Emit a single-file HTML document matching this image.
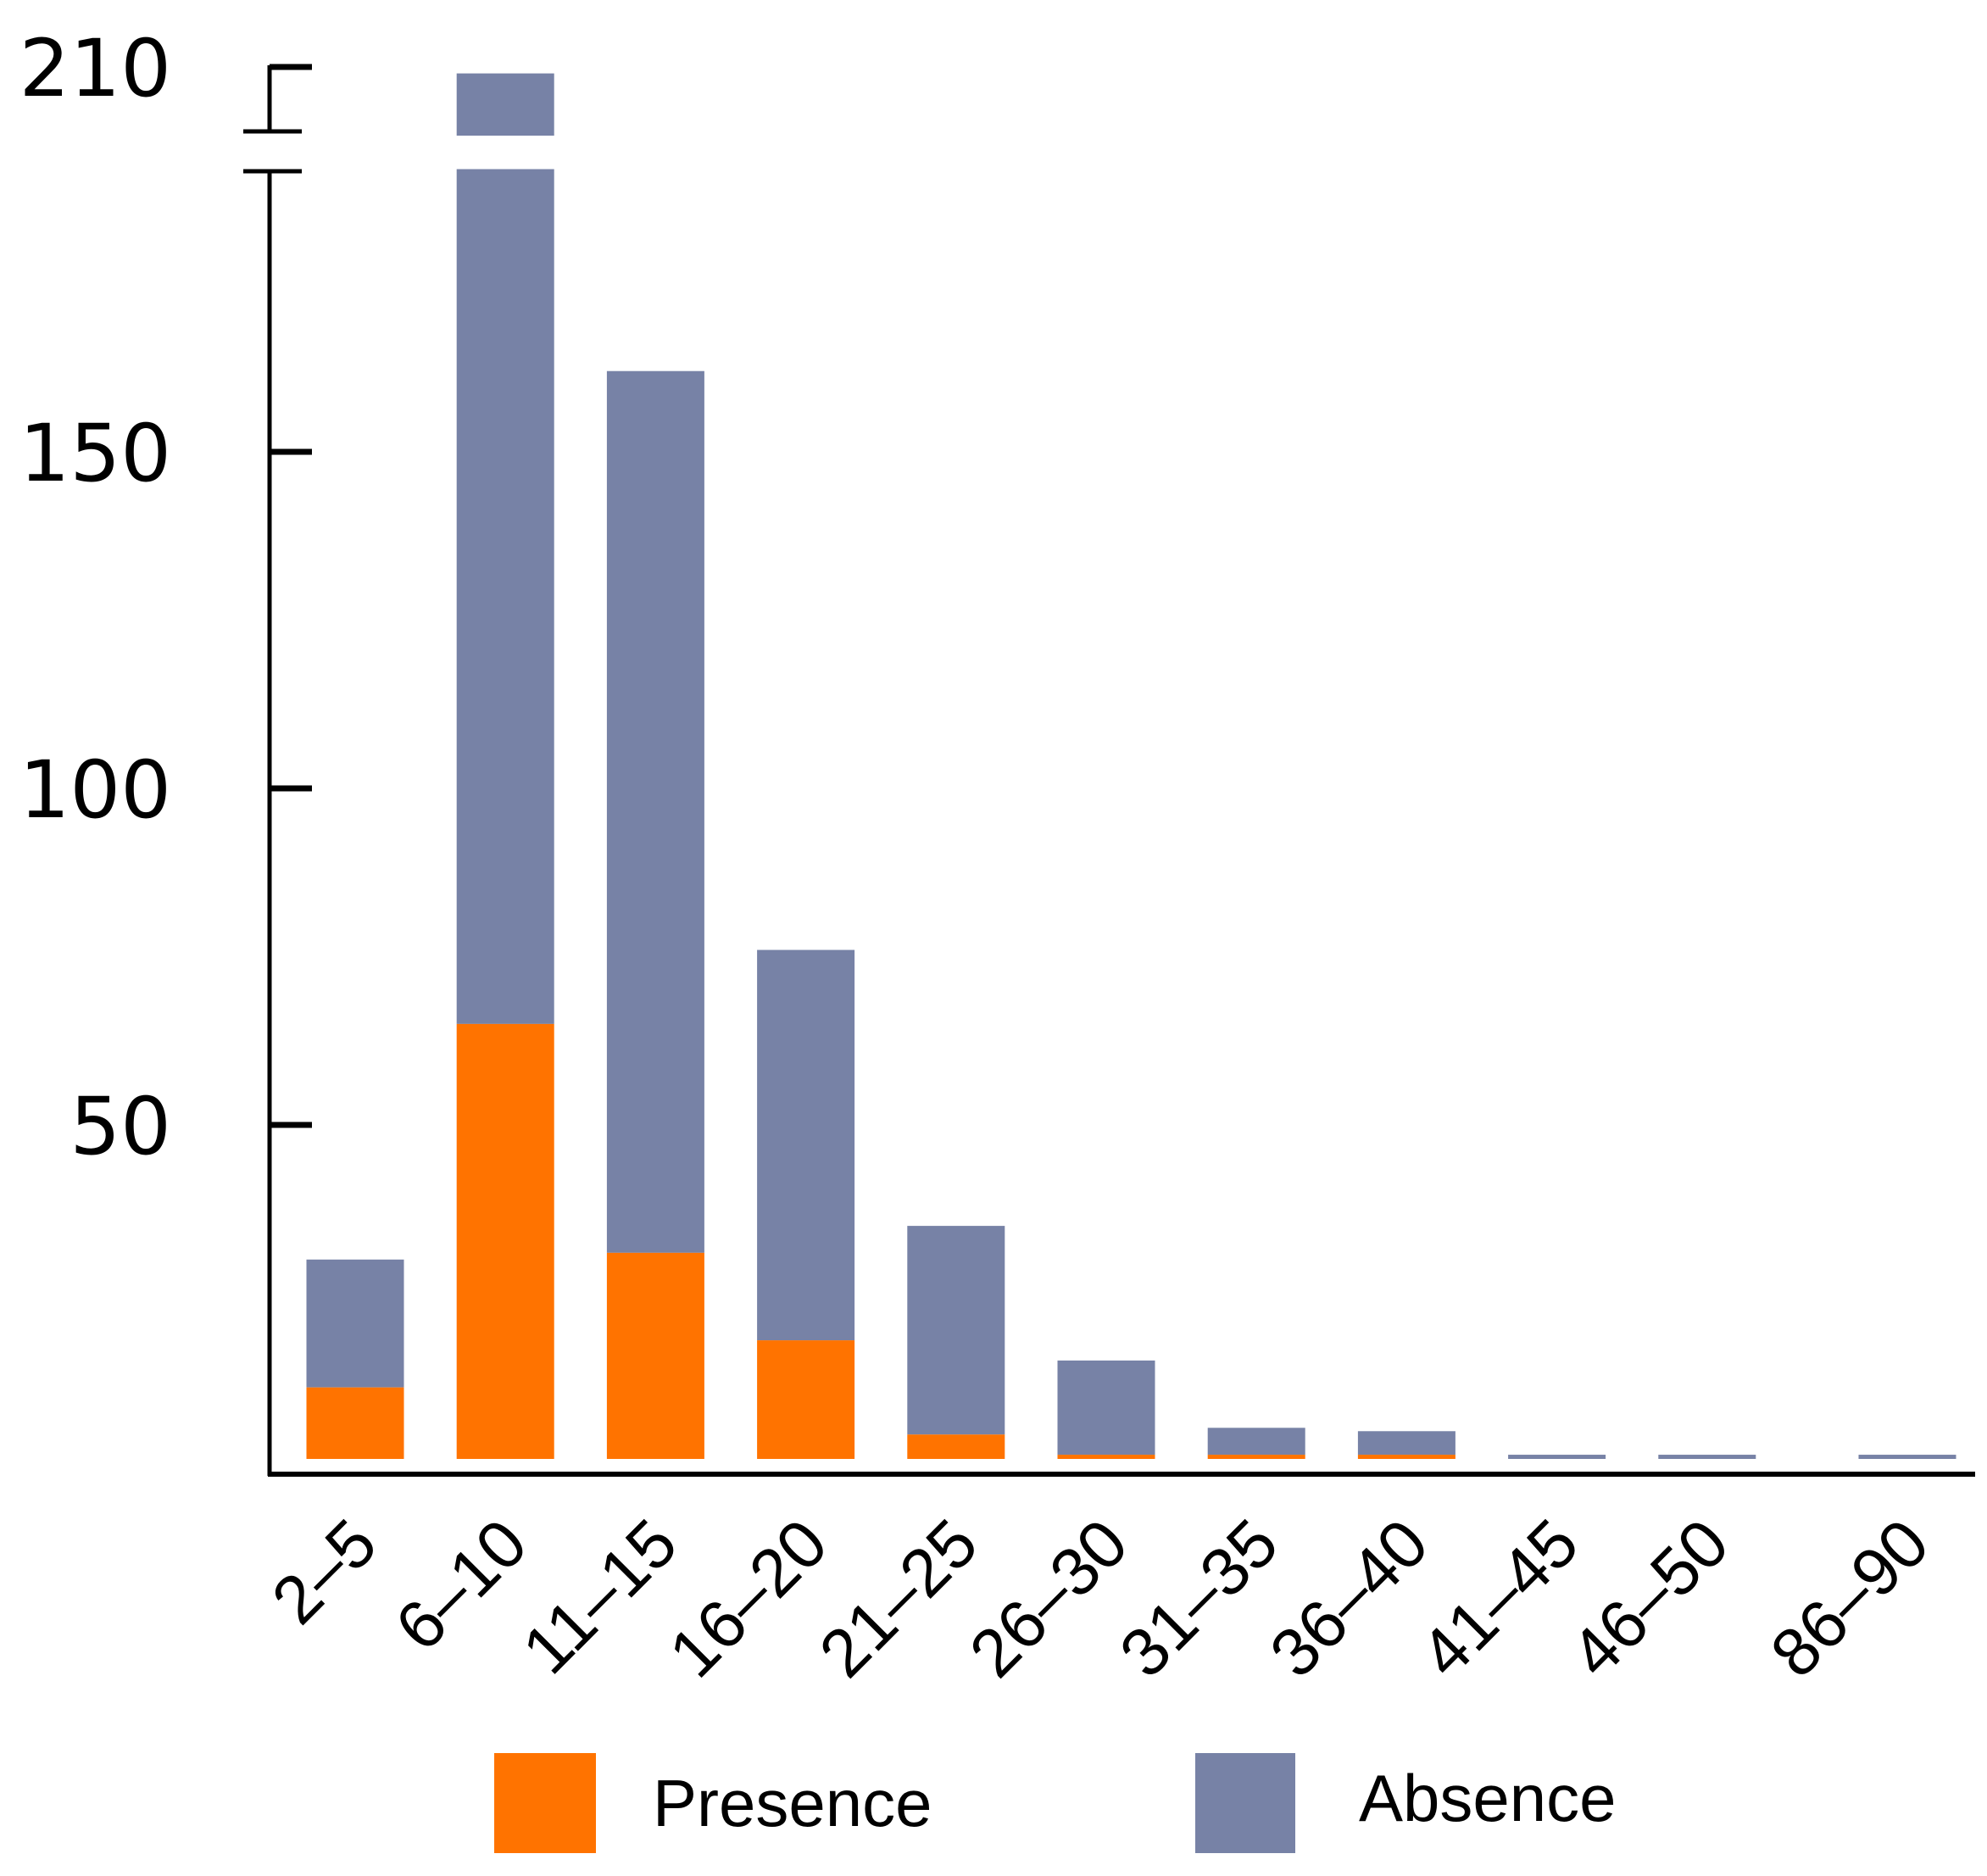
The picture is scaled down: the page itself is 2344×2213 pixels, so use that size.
<!DOCTYPE html>
<html><head><meta charset="utf-8"><style>
html,body{margin:0;padding:0;background:#fff;}
svg{display:block;font-family:"Liberation Sans",sans-serif;}
</style></head><body>
<svg id="chart" width="2344" height="2213" viewBox="0 0 2344 2213" xmlns="http://www.w3.org/2000/svg"></svg>
<script>
const categories = ["2–5","6–10","11–15","16–20","21–25","26–30","31–35","36–40","41–45","46–50","86–90"];
const presence = [11,65,31,18,4,1,1,1,0,0,0];
const totals = [30,209,162,76,35,15,5,4.5,1,1,1];
const yTicks = [50,100,150];
const upperTick = 210;

const NS="http://www.w3.org/2000/svg";
const svg=document.getElementById('chart');
const ORANGE="#FF7300", BLUE="#7782A6";
function el(tag,attrs,parent){const e=document.createElementNS(NS,tag);for(const k in attrs)e.setAttribute(k,attrs[k]);(parent||svg).appendChild(e);return e;}

const zeroY=1724, perUnit=7.94, lowerMax=192;
function yLow(v){return zeroY - Math.min(v,lowerMax)*perUnit;}
const upY0=155, upV0=200, upPer=7.6;
function yUp(v){return upY0-(v-upV0)*upPer;}
const barW=115;
function xC(i){return 419 + i*177.2 + (i===10?59:0);}
const barBottom=1721;

categories.forEach((c,i)=>{
  const cx=xC(i), x=cx-barW/2;
  const p=presence[i], t=totals[i];
  if(t>p){
    const top=yLow(t), bot=yLow(p);
    const r=el('rect',{x:x,y:top,width:barW,height:Math.max(0,Math.min(bot,barBottom)-top),fill:BLUE});
    
    
    if(t>lowerMax){
      const r2=el('rect',{x:x,y:yUp(t),width:barW,height:160-yUp(t),fill:BLUE});
      
      
    }
  }
  if(p>0){
    const top=yLow(p);
    const r=el('rect',{x:x,y:top,width:barW,height:barBottom-top,fill:ORANGE});
    
    
  }
  const tx=cx+30, ty=1826;
  const t2=el('text',{x:tx,y:ty,'font-size':80,'text-anchor':'end',transform:`rotate(-45 ${tx} ${ty})`,fill:'#000'});
  t2.textContent=c;
  
  
});

const ya=el('line',{x1:318,y1:202,x2:318,y2:1741,stroke:'#000','stroke-width':5});


const xa=el('line',{x1:316,y1:1739,x2:2330,y2:1739,stroke:'#000','stroke-width':6});


el('line',{x1:287,y1:202,x2:356,y2:202,stroke:'#000','stroke-width':5});
el('line',{x1:287,y1:155,x2:356,y2:155,stroke:'#000','stroke-width':5});
const yu=el('line',{x1:318,y1:155,x2:318,y2:77,stroke:'#000','stroke-width':5});



function tick(y,label){
  el('line',{x1:318,y1:y,x2:368,y2:y,stroke:'#000','stroke-width':7});
  const t=el('text',{x:202,y:y+34,'font-size':94,'text-anchor':'end',fill:'#000','font-family':'"DejaVu Sans",sans-serif'});
  t.textContent=label;
  
  
}
yTicks.forEach(v=>tick(yLow(v),String(v)));
tick(yUp(upperTick),String(upperTick));

const l1=el('rect',{x:583,y:2068,width:120,height:118,fill:ORANGE});


const lt1=el('text',{x:770,y:2154,'font-size':78,fill:'#000'});lt1.textContent='Presence';


const l2=el('rect',{x:1410,y:2068,width:118,height:118,fill:BLUE});


const lt2=el('text',{x:1603,y:2148,'font-size':78,fill:'#000'});lt2.textContent='Absence';


</script>
</body></html>
